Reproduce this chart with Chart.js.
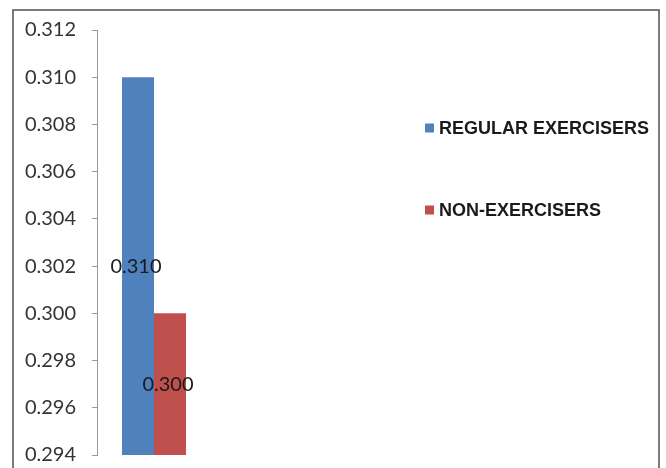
<!DOCTYPE html>
<html><head><meta charset="utf-8">
<script src="https://cdn.jsdelivr.net/npm/chart.js@4.4.1/dist/chart.umd.min.js"></script>
<style>html,body{margin:0;padding:0;background:#fff;}#wrap{width:666px;height:468px;}</style>
</head><body><div id="wrap"><canvas id="c" width="666" height="468"></canvas></div>
<script>
const categories = [''];
const seriesNames = ['REGULAR EXERCISERS', 'NON-EXERCISERS'];
const regularValues = [0.310];
const nonExerciserValues = [0.300];
const yTickValues = [0.294, 0.296, 0.298, 0.300, 0.302, 0.304, 0.306, 0.308, 0.310, 0.312];
const seriesColors = ['#4F81BD', '#C0504D'];

const framePlugin = {
  id: 'frame',
  beforeDraw(chart) {
    const ctx = chart.ctx;
    ctx.save();
    ctx.fillStyle = '#ffffff';
    ctx.fillRect(0, 0, chart.width, chart.height);
    ctx.strokeStyle = '#505050';
    ctx.lineWidth = 1.5;
    ctx.strokeRect(13, 10, 646, 480);
    ctx.restore();
  }
};

const overlayPlugin = {
  id: 'overlay',
  afterDraw(chart) {
    const ctx = chart.ctx;
    const yScale = chart.scales.y;
    const xScale = chart.scales.x;
    ctx.save();
    // value labels at bar centres
    ctx.font = '20px Lato';
    ctx.fillStyle = '#1a1a1a';
    ctx.textAlign = 'center';
    ctx.textBaseline = 'middle';
    chart.data.datasets.forEach((ds, i) => {
      const meta = chart.getDatasetMeta(i);
      ds.data.forEach((v, j) => {
        const el = meta.data[j];
        const props = el.getProps(['x', 'width'], true);
        let cx = props.x;
        if (!isFinite(cx)) cx = xScale.getPixelForValue(j);
        const top = yScale.getPixelForValue(v);
        const base = yScale.getPixelForValue(yScale.min);
        const cy = (top + base) / 2;
        ctx.fillText(Number(v).toFixed(3), cx - 2, cy);
      });
    });
    // side legend
    const rowsY = [128, 210];
    ctx.font = 'bold 18px "Liberation Sans"';
    ctx.textAlign = 'left';
    chart.data.datasets.forEach((ds, i) => {
      const y = rowsY[i];
      ctx.fillStyle = ds.backgroundColor;
      ctx.fillRect(425, y - 4.5, 9, 9);
      ctx.fillStyle = '#1a1a1a';
      ctx.fillText(ds.label, 439, y + 1);
    });
    ctx.restore();
  }
};

new Chart(document.getElementById('c'), {
  type: 'bar',
  data: {
    labels: categories,
    datasets: [
      { label: seriesNames[0], data: regularValues, backgroundColor: seriesColors[0], categoryPercentage: 0.5614, barPercentage: 1.0 },
      { label: seriesNames[1], data: nonExerciserValues, backgroundColor: seriesColors[1], categoryPercentage: 0.5614, barPercentage: 1.0 }
    ]
  },
  options: {
    responsive: false,
    animation: false,
    devicePixelRatio: 1,
    layout: { padding: { left: 0, top: 30, right: 455, bottom: 13 } },
    plugins: { legend: { display: false }, tooltip: { enabled: false } },
    scales: {
      x: { display: false },
      y: {
        min: 0.294,
        max: 0.312,
        afterFit(scale) { scale.width = 97; scale.paddingTop = 12; scale.paddingBottom = 12; },
        afterBuildTicks(scale) { scale.ticks = yTickValues.map(v => ({ value: v })); },
        grid: { display: true, drawOnChartArea: false, drawTicks: true, tickLength: 5, color: '#9a9a9a' },
        border: { display: true, color: '#9a9a9a', width: 1 },
        ticks: {
          padding: 16,
          color: '#333333',
          font: { family: 'Lato', size: 20 },
          callback: (v) => Number(v).toFixed(3)
        }
      }
    }
  },
  plugins: [framePlugin, overlayPlugin]
});
</script></body></html>
